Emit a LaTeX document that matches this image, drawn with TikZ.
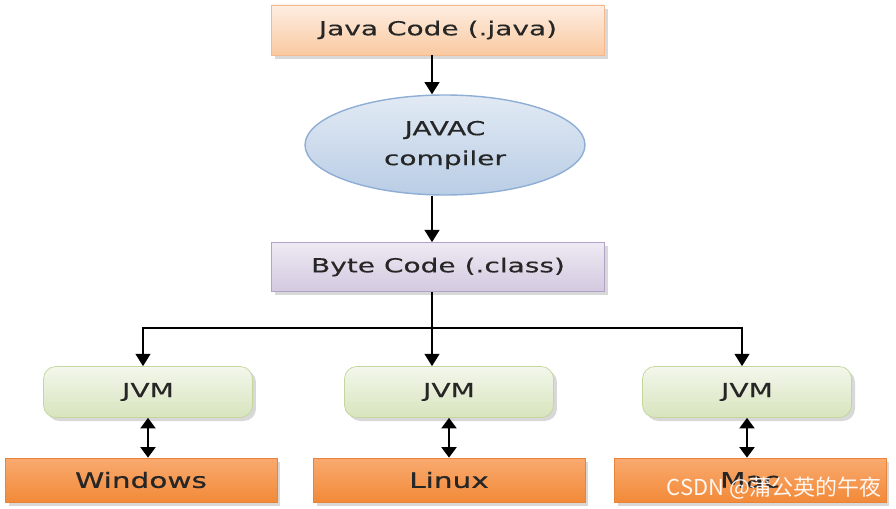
\documentclass[tikz,border=0pt]{standalone}
\usepackage{fontspec}
\usepackage{xcolor}
\usepackage{tikz}
\usetikzlibrary{arrows.meta,shapes,shadows}
\newfontfamily\boxfont[FakeStretch=1.45,FakeBold=0.3]{DejaVu Sans}
\newfontfamily\osfont[FakeStretch=1.4,FakeBold=0.7]{DejaVu Sans}
\newfontfamily\cjk{Noto Sans CJK SC}
\definecolor{textgray}{HTML}{262626}
\definecolor{peachtop}{HTML}{FDEEE2}
\definecolor{peachbot}{HTML}{FAC9A0}
\definecolor{peachline}{HTML}{F4B98E}
\definecolor{bluetop}{HTML}{E2EAF4}
\definecolor{bluebot}{HTML}{B9CDE5}
\definecolor{blueline}{HTML}{8FAED6}
\definecolor{lilactop}{HTML}{EEEAF3}
\definecolor{lilacbot}{HTML}{D3C9E0}
\definecolor{lilacline}{HTML}{B3A2C7}
\definecolor{greentop}{HTML}{F3F7EC}
\definecolor{greenbot}{HTML}{D7E4BD}
\definecolor{greenline}{HTML}{C3D69B}
\definecolor{ostop}{HTML}{F9AA70}
\definecolor{osbot}{HTML}{F28A38}
\definecolor{osline}{HTML}{E8833A}

\begin{document}
\begin{tikzpicture}[x=0.02cm,y=-0.02cm,
  arr/.style={-{Triangle[width=8.5pt,length=7pt]},line width=1pt},
  dblarr/.style={{Triangle[width=8.5pt,length=6pt]}-{Triangle[width=8.5pt,length=6pt]},line width=1.3pt},
  shade box/.style={rectangle,text=textgray,font=\boxfont\fontsize{11}{13}\selectfont,
    drop shadow={shadow xshift=2pt,shadow yshift=-2pt,opacity=0.3}},
  srcbox/.style={shade box,minimum width=6.66cm,minimum height=1cm,
    top color=peachtop,bottom color=peachbot,draw=peachline},
  compbox/.style={ellipse,text=textgray,font=\boxfont\fontsize{11}{17}\selectfont,align=center,
    minimum width=5.6cm,minimum height=2cm,inner sep=0pt,
    top color=bluetop,bottom color=bluebot,draw=blueline,line width=0.8pt},
  classbox/.style={shade box,minimum width=6.66cm,minimum height=0.98cm,
    top color=lilactop,bottom color=lilacbot,draw=lilacline},
  vmbox/.style={shade box,rounded corners=7pt,minimum width=4.18cm,minimum height=1.02cm,
    top color=greentop,bottom color=greenbot,draw=greenline},
  osbox/.style={shade box,font=\osfont\fontsize{12}{14}\selectfont,
    minimum width=5.44cm,minimum height=0.88cm,
    top color=ostop,bottom color=osbot,draw=osline}]
\useasboundingbox[fill=white] (0,0) rectangle (896,509);

\node[srcbox] (java) at (438,30) {Java Code (.java)};
\node[compbox] (javac) at (445,145) {JAVAC\\compiler};
\node[classbox] (byte) at (438,267) {Byte Code (.class)};

\node[vmbox] (jvmwin) at (148,392) {JVM};
\node[vmbox] (jvmlin) at (449,392) {JVM};
\node[vmbox] (jvmmac) at (747,392) {JVM};

\node[osbox] (win) at (141,480) {Windows};
\node[osbox] (lin) at (449,480) {Linux};
\node[osbox] (mac) at (750,480) {Mac};

% the arrows run a bit left of the middle
\coordinate (spine) at (432,0);

% compile
\draw[arr] (java.south -| spine) -- (javac.north -| spine);
\draw[arr] (javac.south -| spine) -- (byte.north -| spine);

% bus to the vms
\draw[line width=0.8pt] (byte.south -| spine) -- (spine |- 0,328) coordinate (split);
\draw[arr,line width=0.8pt] (split) -| ([xshift=-0.1cm]jvmwin.north);
\draw[arr,line width=0.8pt] (split) -| ([xshift=-0.1cm]jvmmac.north);
\draw[arr,line width=0.8pt] (split) -- (split |- jvmlin.north);

% vm <-> os
\draw[dblarr] (jvmwin.south) -- (jvmwin.south |- win.north);
\draw[dblarr] (jvmlin.south) -- (jvmlin.south |- lin.north);
\draw[dblarr] (jvmmac.south) -- (jvmmac.south |- mac.north);

\node[anchor=east,text=white,opacity=0.92,font=\cjk\fontsize{12.5}{14}\selectfont,inner sep=0pt]
  (mark) at (882,488) {CSDN @蒲公英的午夜};
\end{tikzpicture}
\end{document}
